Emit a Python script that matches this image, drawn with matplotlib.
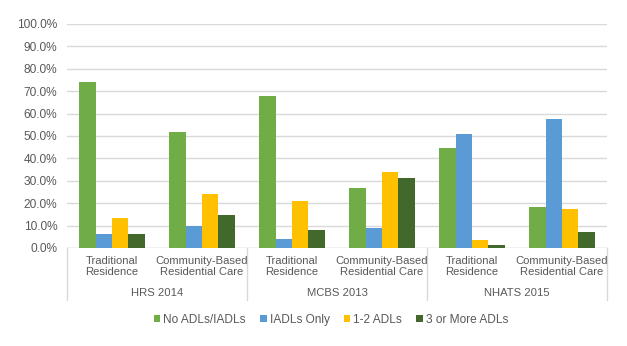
import numpy as np
import matplotlib.pyplot as plt

plt.rcParams['font.family'] = ['Liberation Sans', 'DejaVu Sans']

surveys = ['HRS 2014', 'MCBS 2013', 'NHATS 2015']
settings = ['Traditional\nResidence', 'Community-Based\nResidential Care']
series = ['No ADLs/IADLs', 'IADLs Only', '1-2 ADLs', '3 or More ADLs']
colors = ['#70AD47', '#5B9BD5', '#FFC000', '#43682B']

# percent, one value per (survey, setting) in order
no_adl = [74.1, 51.8, 67.7, 26.6, 44.6, 18.3]
iadl_only = [6.2, 9.8, 3.9, 8.9, 50.9, 57.6]
adl_1_2 = [13.4, 24.0, 20.8, 33.8, 3.6, 17.5]
adl_3_plus = [6.4, 14.7, 8.2, 31.1, 1.5, 7.0]
values = [no_adl, iadl_only, adl_1_2, adl_3_plus]

text_col = '#595959'
grid_col = '#D9D9D9'

fig = plt.figure(figsize=(6.27, 3.46), dpi=100)
ax = fig.add_axes([67 / 627, 1 - 248 / 346, 540 / 627, 224 / 346])

x = np.arange(len(no_adl))
w = 0.183
for i, (name, vals) in enumerate(zip(series, values)):
    ax.bar(x + (i - 1.5) * w, vals, w, color=colors[i], label=name, zorder=3)

ax.set_xlim(-0.5, len(x) - 0.5)
ax.set_ylim(0, 100)
ax.set_yticks(np.arange(0, 101, 10))
ax.set_yticklabels([f'{v:.1f}%' for v in np.arange(0, 101, 10)])
ax.tick_params(axis='y', length=0, labelsize=8.6, labelcolor=text_col, pad=7)
ax.set_xticks([])
ax.grid(axis='y', color=grid_col, linewidth=1, zorder=0)
for s in ax.spines.values():
    s.set_visible(False)
ax.axhline(0, color=grid_col, linewidth=1, zorder=2)

# category labels and group labels below the axis
tr = ax.get_xaxis_transform()
for i in x:
    ax.text(i, -0.083, settings[i % 2], transform=tr, ha='center', va='center',
            fontsize=8.1, color=text_col, linespacing=1.15)
for g, name in enumerate(surveys):
    ax.text(2 * g + 0.5, -0.2, name, transform=tr, ha='center', va='center',
            fontsize=8.1, color=text_col)
for b in [-0.5, 1.5, 3.5, 5.5]:
    ax.plot([b, b], [0, -0.23], transform=tr, color=grid_col, linewidth=1,
            clip_on=False)

fig.legend(loc='center', bbox_to_anchor=(331 / 627, 1 - 320 / 346), ncol=4,
           frameon=False, fontsize=8.6, handlelength=0.55, handleheight=0.55,
           handletextpad=0.25, columnspacing=1.2, labelcolor=text_col)

fig.savefig('out.png', dpi=100)
